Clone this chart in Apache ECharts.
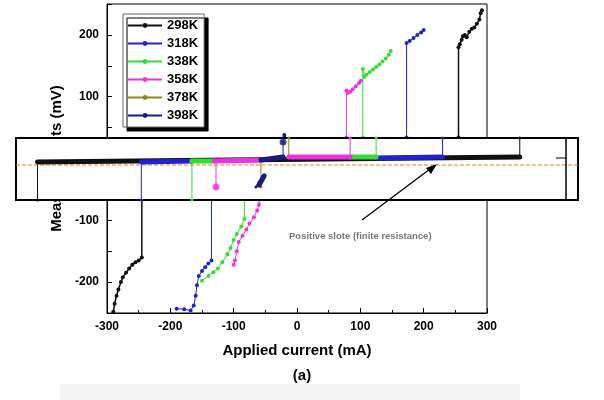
<!DOCTYPE html>
<html><head><meta charset="utf-8">
<script src="https://cdn.jsdelivr.net/npm/echarts@6/dist/echarts.min.js"></script>
<style>html,body{margin:0;padding:0;background:#fff}#c{width:604px;height:400px}</style>
</head><body><div id="c"></div>
<script>
const temps=['298K','318K','338K','358K','378K','398K'];
const colors=['#111111','#2222cc','#33dd33','#ee33dd','#888822','#1a1a80'];
// main plot branches [current mA, volts mV]
const main298=[[255,34],[255,180],[257,185],[260,192],[262,198],[265,200],[268,196],[272,205],[276,210],[280,212],[284,218],[288,225],[290,235],[292,240],null,[-245,-66],[-245,-160],[-250,-165],[-255,-168],[-260,-172],[-265,-178],[-270,-185],[-275,-192],[-278,-200],[-282,-212],[-285,-222],[-288,-235],[-290,-248]];
const main318=[[173,34],[173,187],[178,190],[184,195],[190,200],[196,204],[200,208],null,[-135,-66],[-135,-165],[-140,-170],[-145,-176],[-150,-182],[-155,-190],[-158,-205],[-160,-222],[-163,-238],[-168,-246],[-178,-244],[-190,-243]];
const main338=[[104,34],[104,145],[106,132],[110,136],[115,140],[120,144],[125,148],[130,152],[135,157],[140,162],[145,168],[148,174],null,[-83,-66],[-83,-98],[-88,-110],[-95,-122],[-100,-132],[-105,-145],[-110,-155],[-118,-168],[-125,-178],[-132,-184],[-140,-190],[-150,-198]];
const main358=[[78,34],[78,110],[80,106],[84,108],[88,112],[93,117],[98,122],[101,126],null,[-60,-66],[-60,-75],[-63,-84],[-68,-95],[-75,-105],[-80,-115],[-86,-125],[-92,-135],[-95,-150],[-98,-165],[-100,-172]];
const main378=[];
const main398=[[-20,34],[-20,38]];
// inset (zoomed) branches [current mA, scaled volts]
const ins298=[[-410,-35],[-410,3],[-200,4],[0,5],[200,7],[352,8],null,[352,8],[352,27]];
const ins318=[[-246,-35],[-246,3],[-166,4],null,[125,7],[230,8],[230,27]];
const ins338=[[-166,-35],[-166,4],[-131,4],null,[84,8],[125,8],[125,27]];
const ins358=[[-128,-22],[-128,4],[-57,5],null,[-13,8],[84,8],[84,27]];
const ins378=[[-57,5],[-57,-22],[-62,-20],null,[-13,8],[-13,27]];
const ins398=[[-65,-22],[-60,-17],[-55,-12],[-51,-10],null,[-50,5],[-22,8],[-22,23]];
const mains=[main298,main318,main338,main358,main378,main398];
const insets=[ins298,ins318,ins338,ins358,ins378,ins398];
const series=[];
temps.forEach((t,i)=>{
 series.push({name:t,type:'line',xAxisIndex:0,yAxisIndex:0,data:mains[i],connectNulls:false,
  symbol:'circle',symbolSize:4,showSymbol:true,lineStyle:{width:i==0?1.5:1,color:colors[i]},itemStyle:{color:colors[i]},z:2});
});
temps.forEach((t,i)=>{
 series.push({name:t,type:'line',xAxisIndex:1,yAxisIndex:1,data:insets[i],connectNulls:false,
  symbol:'circle',symbolSize:3,showSymbol:true,lineStyle:{width:1,color:colors[i]},itemStyle:{color:colors[i]},z:12,
  silent:true});
});
const ribbons=[[[-410,3],[352,8],0],[[-246,3],[-166,4],1],[[125,7],[230,8],1],[[-166,4],[-131,4],2],[[84,8],[125,8],2],[[-131,4],[-57,5],3],[[-13,8],[84,8],3],[[-60,-20],[-52,-11],5],[[-57,5],[-22,8],5]];
ribbons.forEach(r=>{
 series.push({type:'line',xAxisIndex:1,yAxisIndex:1,data:[r[0],r[1]],symbol:'none',lineStyle:{width:5,color:colors[r[2]],cap:'round'},z:13,silent:true});
});
series.push({type:'line',xAxisIndex:1,yAxisIndex:1,data:[[-444,0],[444,0]],symbol:'none',lineStyle:{width:1,type:'dashed',color:'#e08020'},z:12,silent:true});
series.push({type:'scatter',xAxisIndex:1,yAxisIndex:1,data:[[-22,23],[-128,-22]],symbolSize:7,itemStyle:{color:function(p){return p.dataIndex==0?colors[5]:colors[3];}},z:14,silent:true});
const chart=echarts.init(document.getElementById('c'));
chart.setOption({
 animation:false,
 grid:[{left:107,right:117,top:4,bottom:87,show:true,borderColor:'#000',borderWidth:1,z:0},
       {left:16,right:26,top:138,bottom:200,show:true,backgroundColor:'#fff',borderColor:'#000',borderWidth:2,z:10}],
 xAxis:[{type:'value',gridIndex:0,min:-300,max:300,interval:100,
   axisLine:{onZero:false,lineStyle:{color:'#000'}},axisTick:{inside:true,length:5,lineStyle:{color:'#000'}},
   minorTick:{show:true,splitNumber:2,length:3,lineStyle:{color:'#000'}},splitLine:{show:false},
   axisLabel:{color:'#000',fontWeight:'bold',fontSize:12,fontFamily:'Liberation Sans'},
   name:'Applied current (mA)',nameLocation:'middle',nameGap:30,
   nameTextStyle:{color:'#000',fontWeight:'bold',fontSize:15,fontFamily:'Liberation Sans'}},
  {type:'value',gridIndex:1,min:-444,max:444,show:false}],
 yAxis:[{type:'value',gridIndex:0,min:-250,max:250,interval:50,
   axisLine:{onZero:false,lineStyle:{color:'#000'}},axisTick:{inside:true,length:5,lineStyle:{color:'#000'}},splitLine:{show:false},
   axisLabel:{color:'#000',fontWeight:'bold',fontSize:12,fontFamily:'Liberation Sans',formatter:v=>(v%100===0&&v!==0)?v:''},
   name:'Measured volts (mV)',nameLocation:'middle',nameGap:38,
   nameTextStyle:{color:'#000',fontWeight:'bold',fontSize:15,fontFamily:'Liberation Sans'}},
  {type:'value',gridIndex:1,min:-35,max:27,show:false}],
 legend:{data:temps,left:123,top:14,orient:'vertical',itemGap:5,itemWidth:34,itemHeight:6,
   backgroundColor:'#fff',borderColor:'#666',borderWidth:1,padding:[5,6,5,4],
   shadowColor:'#000',shadowOffsetX:4,shadowOffsetY:4,shadowBlur:0,
   textStyle:{color:'#000',fontWeight:'bold',fontSize:13,fontFamily:'Liberation Sans'}},
 graphic:[
  {type:'rect',z:-1,shape:{x:60,y:384,width:460,height:16},style:{fill:'#f4f4f4'}},
  {type:'line',z:20,shape:{x1:566,y1:138,x2:566,y2:200},style:{stroke:'#000',lineWidth:1.5}},
  {type:'line',z:20,shape:{x1:556,y1:158,x2:566,y2:158},style:{stroke:'#000',lineWidth:1}},
  {type:'text',left:'center',top:368,style:{text:'(a)',fontSize:15,fontWeight:'bold',fill:'#000',fontFamily:'Liberation Sans'}},
  {type:'text',left:289,top:231,z:20,style:{text:'Positive slote (finite resistance)',fontSize:9.5,fontWeight:'bold',fill:'#777',fontFamily:'Liberation Sans'}},
  {type:'line',z:20,shape:{x1:362,y1:220,x2:434,y2:166},style:{stroke:'#000',lineWidth:1.3}},
  {type:'polygon',z:20,shape:{points:[[437,164],[426,168],[431,174]]},style:{fill:'#000'}}
 ],
 series:series
});
</script></body></html>
